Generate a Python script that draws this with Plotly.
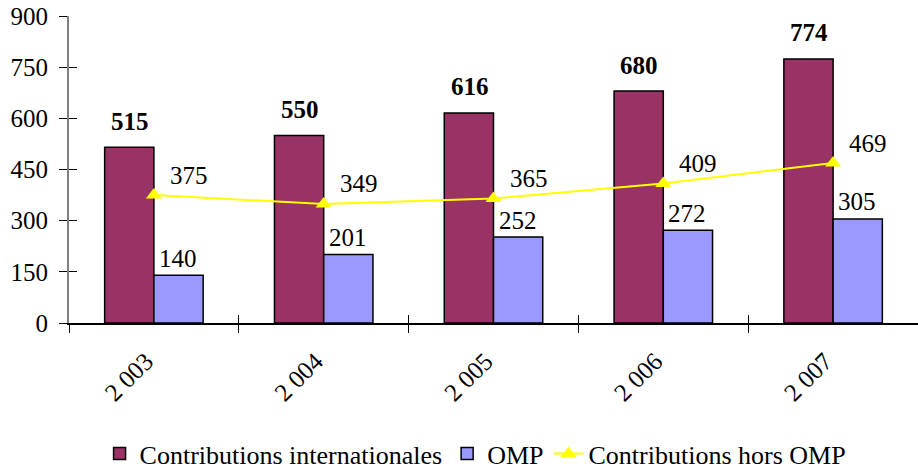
import plotly.graph_objects as go

years = ["2 003", "2 004", "2 005", "2 006", "2 007"]
contrib_intl = [515, 550, 616, 680, 774]
omp = [140, 201, 252, 272, 305]
hors_omp = [375, 349, 365, 409, 469]
y_ticks = [0, 150, 300, 450, 600, 750, 900]

MAROON = "#993366"
LILAC = "#9999FF"
YELLOW = "#FFFF00"
FONT = "'Liberation Serif', 'Times New Roman', serif"
FS = 25

fig = go.Figure()

fig.add_trace(go.Bar(
    x=years, y=contrib_intl, name="Contributions internationales",
    marker=dict(color=MAROON, line=dict(color="black", width=1.5)),
))
fig.add_trace(go.Bar(
    x=years, y=omp, name="OMP",
    marker=dict(color=LILAC, line=dict(color="black", width=1.5)),
))
fig.add_trace(go.Scatter(
    x=years, y=hors_omp, name="Contributions hors OMP", mode="lines+markers",
    line=dict(color=YELLOW, width=2),
    marker=dict(symbol="triangle-up", size=14, color=YELLOW),
))

# helper axes giving the tick marks their inner half
fig.add_trace(go.Scatter(x=[None], y=[None], xaxis="x2", yaxis="y2",
                         showlegend=False, hoverinfo="skip"))

annotations = []
for i, yr in enumerate(years):
    annotations.append(dict(x=yr, y=contrib_intl[i], text=str(contrib_intl[i]),
                            xshift=-24, yshift=26, showarrow=False,
                            font=dict(family=FONT, size=FS, color="black", weight="bold")))
    annotations.append(dict(x=yr, y=omp[i], text=str(omp[i]),
                            xshift=24, yshift=17, showarrow=False,
                            font=dict(family=FONT, size=FS, color="black")))
    annotations.append(dict(x=yr, y=hors_omp[i], text=str(hors_omp[i]),
                            xshift=35, yshift=20, showarrow=False,
                            font=dict(family=FONT, size=FS, color="black")))

fig.update_layout(
    width=918, height=473,
    margin=dict(l=69, r=0, t=16, b=150, autoexpand=False),
    paper_bgcolor="white", plot_bgcolor="white",
    font=dict(family=FONT, size=FS, color="black"),
    barmode="group", bargap=0.42, bargroupgap=0,
    showlegend=True,
    legend=dict(orientation="h", x=0.036, xanchor="left", y=-0.425, yanchor="middle",
                font=dict(family=FONT, size=26), itemwidth=30,
                tracegroupgap=0),
    annotations=annotations,
    xaxis=dict(type="category", categoryarray=years, range=[-0.5, 4.5],
               showline=True, linecolor="black", linewidth=1.5,
               ticks="outside", tickson="boundaries", ticklen=8, tickcolor="black",
               tickwidth=1, tickangle=-45, showgrid=False, automargin=False,
               ticklabelstandoff=12, ticklabelshift=-8,
               tickfont=dict(family=FONT, size=FS)),
    yaxis=dict(range=[0, 900], tickvals=y_ticks, showline=True, linecolor="#808080",
               linewidth=2, ticks="outside", ticklen=8, tickcolor="black",
               tickwidth=1, showgrid=False, zeroline=False, automargin=False,
               ticklabelstandoff=6,
               tickfont=dict(family=FONT, size=FS)),
    xaxis2=dict(overlaying="x", anchor="y2", range=[-0.5, 4.5],
                tickvals=[-0.5, 0.5, 1.5, 2.5, 3.5], ticks="inside", ticklen=8,
                tickcolor="black", tickwidth=1, showticklabels=False,
                showline=False, showgrid=False, zeroline=False),
    yaxis2=dict(overlaying="y", anchor="x2", range=[0, 900], tickvals=y_ticks,
                ticks="inside", ticklen=8, tickcolor="black", tickwidth=1,
                showticklabels=False, showline=False, showgrid=False,
                zeroline=False),
)

fig.write_html("out.html")
